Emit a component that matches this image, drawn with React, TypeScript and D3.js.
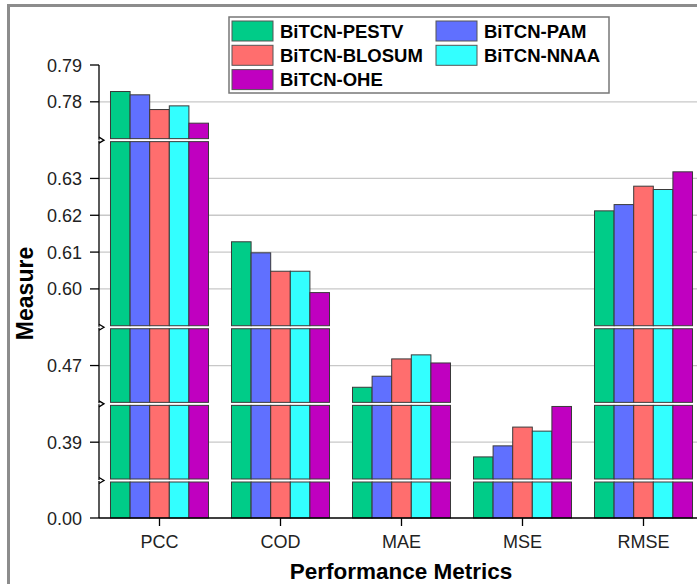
import { useMemo } from "react";
import * as d3 from "d3";

const WIDTH = 697;
const HEIGHT = 584;
const MARGIN = { top: 65, right: -7, bottom: 66, left: 99 };
const FONT = "Arial, 'Liberation Sans', sans-serif";

const categories = ["PCC", "COD", "MAE", "MSE", "RMSE"];
const seriesNames = ["BiTCN-PESTV", "BiTCN-PAM", "BiTCN-BLOSUM", "BiTCN-NNAA", "BiTCN-OHE"];
const seriesColors = ["#00CC88", "#6070FF", "#FF6E6E", "#33FFFF", "#C000C0"];

const pestv = [0.7828, 0.6128, 0.4641, 0.386, 0.6212];
const pam = [0.7819, 0.6098, 0.4671, 0.389, 0.6229];
const blosum = [0.7779, 0.6048, 0.4718, 0.3941, 0.6279];
const nnaa = [0.7789, 0.6048, 0.4729, 0.393, 0.627];
const ohe = [0.7742, 0.599, 0.4707, 0.3997, 0.6318];

// pieces of the broken y axis, top to bottom
const segments: [number, number][] = [
  [0.77, 0.79],
  [0.59, 0.64],
  [0.46, 0.48],
  [0.38, 0.4],
  [0, 0.01],
];
const tickValues = [0.79, 0.78, 0.63, 0.62, 0.61, 0.6, 0.47, 0.39, 0];
const gridValues = [0.78, 0.63, 0.62, 0.61, 0.6, 0.47, 0.39];

const GAP = 3;
const STUB = 36; // height of the bottom piece (0.00)

export default function App() {
  const allSeries = [pestv, pam, blosum, nnaa, ohe];
  const plotTop = MARGIN.top;
  const plotBottom = HEIGHT - MARGIN.bottom;
  const plotRight = WIDTH - MARGIN.right;

  // one linear scale per axis piece, stacked from the bottom up
  const yScales = useMemo(() => {
    const last = segments.length - 1;
    const span = d3.sum(segments.slice(0, last), (s) => s[1] - s[0]);
    const k = (plotBottom - plotTop - STUB - GAP * last) / span;
    const out: d3.ScaleLinear<number, number>[] = [];
    let y0 = plotBottom;
    for (let i = last; i >= 0; i--) {
      const [lo, hi] = segments[i];
      const h = i === last ? STUB : (hi - lo) * k;
      out[i] = d3.scaleLinear().domain([lo, hi]).range([y0, y0 - h]);
      y0 = y0 - h - GAP;
    }
    return out;
  }, []);

  const yOf = (v: number) => {
    const i = segments.findIndex(([lo, hi]) => v >= lo && v <= hi);
    return yScales[i](v);
  };

  const breaks = yScales.slice(1).map((s) => s.range()[1] - GAP / 2);

  const xScale = useMemo(
    () =>
      d3
        .scaleBand()
        .domain(categories)
        .range([MARGIN.left, 704])
        .paddingInner(0.19)
        .paddingOuter(0.095),
    []
  );
  const subScale = d3
    .scaleBand()
    .domain(seriesNames)
    .range([0, xScale.bandwidth()]);

  // each bar is cut into the axis pieces it crosses
  const bars = allSeries.flatMap((values, si) =>
    values.map((v, ci) => {
      const x = (xScale(categories[ci]) ?? 0) + (subScale(seriesNames[si]) ?? 0);
      return segments.map(([lo, hi], gi) => {
        if (v <= lo) return null;
        const s = yScales[gi];
        const yTop = s(Math.min(v, hi));
        const yBot = s(lo);
        return (
          <rect
            key={`${si}-${ci}-${gi}`}
            x={x}
            y={yTop}
            width={subScale.bandwidth()}
            height={yBot - yTop}
            fill={seriesColors[si]}
            stroke="#3a3a3a"
            strokeWidth={1}
          />
        );
      });
    })
  );

  return (
    <div style={{ position: "absolute", left: 0, top: 0 }}>
      <svg width={WIDTH} height={HEIGHT} style={{ display: "block", background: "#fff" }}>
        {/* outer frame */}
        <line x1={7} x2={WIDTH} y1={5.5} y2={5.5} stroke="#8c8c8c" strokeWidth={3} />
        <line x1={8.5} x2={8.5} y1={4} y2={HEIGHT} stroke="#8c8c8c" strokeWidth={3} />

        {/* grid */}
        {gridValues.map((v) => (
          <line
            key={v}
            x1={MARGIN.left}
            x2={plotRight}
            y1={yOf(v)}
            y2={yOf(v)}
            stroke="#c8c8c8"
            strokeWidth={1.3}
          />
        ))}

        {bars}

        {/* y axis */}
        {yScales.map((s, i) => (
          <line
            key={i}
            x1={MARGIN.left}
            x2={MARGIN.left}
            y1={s.range()[0] + (i === segments.length - 1 ? 0 : 1)}
            y2={s.range()[1] - (i === 0 ? 0 : 1)}
            stroke="#000"
            strokeWidth={1.3}
          />
        ))}
        {breaks.map((b, i) => (
          <path
            key={i}
            d={`M${MARGIN.left},${b - 3} L${MARGIN.left + 5},${b} L${MARGIN.left},${b + 3}`}
            fill="none"
            stroke="#000"
            strokeWidth={1.3}
          />
        ))}
        {tickValues.map((v) => (
          <g key={v} transform={`translate(0,${yOf(v)})`}>
            <line x1={MARGIN.left - 9} x2={MARGIN.left} stroke="#000" strokeWidth={1.3} />
            <text
              x={82}
              dy={6.5}
              textAnchor="end"
              fontFamily={FONT}
              fontSize={18}
              fill="#222"
            >
              {d3.format(".2f")(v)}
            </text>
          </g>
        ))}

        {/* x axis */}
        <line
          x1={MARGIN.left}
          x2={plotRight}
          y1={plotBottom}
          y2={plotBottom}
          stroke="#000"
          strokeWidth={1.3}
        />
        {categories.map((c) => {
          const cx = (xScale(c) ?? 0) + xScale.bandwidth() / 2;
          return (
            <g key={c} transform={`translate(${cx},${plotBottom})`}>
              <line y1={0} y2={8} stroke="#000" strokeWidth={1.3} />
              <text y={30} textAnchor="middle" fontFamily={FONT} fontSize={18} fill="#222">
                {c}
              </text>
            </g>
          );
        })}

        {/* axis titles */}
        <text
          transform={`translate(33,${(plotTop + plotBottom) / 2 + 2}) rotate(-90)`}
          textAnchor="middle"
          fontFamily={FONT}
          fontSize={23}
          fontWeight="bold"
          fill="#000"
        >
          Measure
        </text>
        <text
          x={401}
          y={579}
          textAnchor="middle"
          fontFamily={FONT}
          fontSize={22.5}
          fontWeight="bold"
          fill="#000"
        >
          Performance Metrics
        </text>

        {/* legend */}
        <rect x={229} y={17} width={380} height={76} fill="#fff" stroke="#777" strokeWidth={1.5} />
        {seriesNames.map((name, i) => {
          const col = i % 2;
          const row = Math.floor(i / 2);
          const lx = 232 + col * 204;
          const ly = 21 + row * 24.3;
          return (
            <g key={name}>
              <rect
                x={lx}
                y={ly}
                width={41}
                height={20}
                fill={seriesColors[i]}
                stroke="#555"
                strokeWidth={1}
              />
              <text
                x={lx + 48}
                y={ly + 16.5}
                fontFamily={FONT}
                fontSize={18.5}
                fontWeight="bold"
                fill="#000"
              >
                {name}
              </text>
            </g>
          );
        })}
      </svg>
    </div>
  );
}
